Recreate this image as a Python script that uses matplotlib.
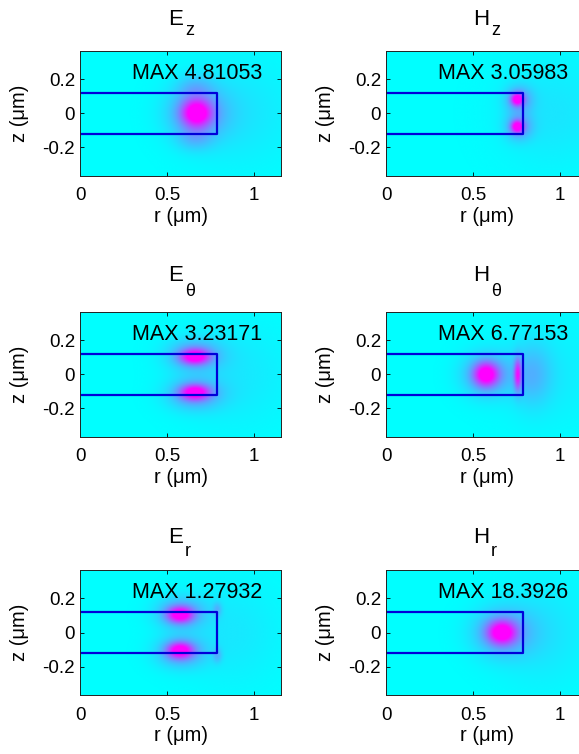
import numpy as np
import matplotlib
matplotlib.use("Agg")
import matplotlib.pyplot as plt

plt.rcParams['font.family'] = ['Liberation Sans', 'DejaVu Sans']
plt.rcParams['axes.unicode_minus'] = False

# plot window (um)
r_lim = (0.0, 1.155)
z_lim = (-0.367, 0.367)

# disk cross-section outline
disk_r = [0.0, 0.79, 0.79, 0.0]
disk_z = [0.12, 0.12, -0.12, -0.12]

# titles, subscripts and field maxima
comp_main = ['E', 'H', 'E', 'H', 'E', 'H']
comp_sub = ['z', 'z', 'θ', 'θ', 'r', 'r']
max_vals = ['4.81053', '3.05983', '3.23171', '6.77153', '1.27932', '18.3926']

# intensity lobes per component: (r0, z0, sigma_r, sigma_z, amplitude)
lobes_Ez = [(0.67, 0.0, 0.058, 0.054, 0.85), (0.675, 0.0, 0.12, 0.11, 0.40),
            (0.66, 0.15, 0.07, 0.05, 0.15), (0.66, -0.15, 0.07, 0.05, 0.15),
            (0.92, 0.0, 0.22, 0.22, 0.10)]
lobes_Hz = [(0.755, 0.08, 0.024, 0.024, 0.85), (0.755, -0.08, 0.024, 0.024, 0.85),
            (0.765, 0.08, 0.055, 0.055, 0.38), (0.765, -0.08, 0.055, 0.055, 0.38),
            (0.95, 0.0, 0.22, 0.22, 0.10)]
lobes_Eth = [(0.66, 0.105, 0.056, 0.03, 0.85), (0.66, -0.105, 0.056, 0.03, 0.85),
             (0.66, 0.115, 0.11, 0.065, 0.38), (0.66, -0.115, 0.11, 0.065, 0.38),
             (0.90, 0.0, 0.22, 0.22, 0.09)]
lobes_Hth = [(0.575, 0.0, 0.048, 0.048, 0.85), (0.58, 0.0, 0.10, 0.09, 0.38),
             (0.758, 0.0, 0.015, 0.065, 0.70), (0.84, 0.0, 0.08, 0.13, 0.24),
             (0.95, 0.0, 0.22, 0.22, 0.07)]
lobes_Er = [(0.575, 0.105, 0.05, 0.032, 0.85), (0.575, -0.105, 0.05, 0.032, 0.85),
            (0.58, 0.115, 0.10, 0.065, 0.38), (0.58, -0.115, 0.10, 0.065, 0.38),
            (0.79, 0.135, 0.018, 0.03, 0.22), (0.79, -0.135, 0.018, 0.03, 0.22),
            (0.88, 0.0, 0.20, 0.22, 0.09)]
lobes_Hr = [(0.665, 0.0, 0.056, 0.048, 0.85), (0.67, 0.0, 0.12, 0.10, 0.38),
            (0.90, 0.0, 0.18, 0.22, 0.11)]
all_lobes = [lobes_Ez, lobes_Hz, lobes_Eth, lobes_Hth, lobes_Er, lobes_Hr]

# figure layout in pixels
W, H = 579, 754
col_x = [80, 386]
row_top = [50.7, 311.7, 570]
ax_w, ax_h = 201, 125
title_gap = [25.7, 31.0, 26.7]
sub_drop = [10.0, 15.0, 13.0]

rr = np.linspace(r_lim[0], r_lim[1], 460)
zz = np.linspace(z_lim[0], z_lim[1], 300)
R, Z = np.meshgrid(rr, zz)


def field_map(lobes):
    f = np.zeros_like(R)
    for r0, z0, sr, sz, a in lobes:
        f += a * np.exp(-0.5 * ((R - r0) / sr) ** 2 - 0.5 * ((Z - z0) / sz) ** 2)
    return np.clip(f, 0, 1)


fig = plt.figure(figsize=(W / 100, H / 100), dpi=100)
for k in range(6):
    row, col = divmod(k, 2)
    x0 = col_x[col]
    top = row_top[row]
    ax = fig.add_axes([x0 / W, 1 - (top + ax_h) / H, ax_w / W, ax_h / H])
    ax.imshow(field_map(all_lobes[k]), cmap='cool', vmin=0, vmax=1, origin='lower',
              extent=[r_lim[0], r_lim[1], z_lim[0], z_lim[1]], aspect='auto',
              interpolation='bilinear')
    ax.plot(disk_r, disk_z, color=(0, 0, 0.85), lw=1.6, solid_joinstyle='round')
    ax.set_xlim(r_lim)
    ax.set_ylim(z_lim)
    ax.set_xticks([0, 0.5, 1])
    ax.set_xticklabels(['0', '0.5', '1'])
    ax.set_yticks([-0.2, 0, 0.2])
    ax.set_yticklabels(['-0.2', '0', '0.2'])
    ax.tick_params(direction='in', length=3, width=0.6, top=True, right=True,
                   labelsize=13.5, colors='black')
    ax.tick_params(axis='x', pad=8.3)
    ax.tick_params(axis='y', pad=3.6)
    for s in ax.spines.values():
        s.set_linewidth(0.7)
        s.set_color('#222222')
    ax.set_xlabel('r (μm)', fontsize=14.5)
    ax.xaxis.set_label_coords(0.5, -31 / ax_h)
    ax.set_ylabel('z (μm)', fontsize=14.5)
    ax.yaxis.set_label_coords(-51 / ax_w, 0.5)
    ax.text(0.30, 0.2, 'MAX ' + max_vals[k], fontsize=15.5, ha='left', va='baseline')

    # title: component letter with lowered subscript
    cx = x0 + ax_w / 2
    base = top - title_gap[row]
    fig.text((cx + 3) / W, 1 - base / H, comp_main[k], fontsize=16,
             ha='right', va='baseline')
    fig.text((cx + 4.5) / W, 1 - (base + sub_drop[row]) / H, comp_sub[k],
             fontsize=13, ha='left', va='baseline')

fig.savefig('out.png', dpi=100)
